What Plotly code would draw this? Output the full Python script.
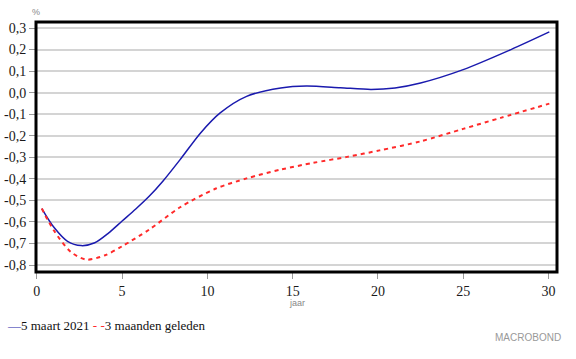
import plotly.graph_objects as go

# Data
maturity_blue = [0.29, 1.0, 1.8, 2.6, 3.4, 4.2, 5.0, 5.8, 6.6, 7.4, 8.4, 9.6, 10.75, 12.3, 14.3, 15.8, 17.8, 19.6, 21.0, 22.5, 25.0, 27.8, 30.05]
yield_blue = [-0.538, -0.625, -0.69, -0.71, -0.697, -0.652, -0.596, -0.54, -0.48, -0.41, -0.311, -0.187, -0.094, -0.017, 0.022, 0.031, 0.023, 0.015, 0.022, 0.045, 0.107, 0.2, 0.282]

maturity_red = [0.29, 1.0, 2.0, 2.9, 4.0, 5.0, 6.6, 8.4, 10.5, 12.3, 14.3, 16.2, 18.2, 20.1, 22.5, 25.0, 27.2, 30.05]
yield_red = [-0.538, -0.64, -0.74, -0.775, -0.755, -0.713, -0.635, -0.532, -0.445, -0.398, -0.357, -0.326, -0.298, -0.268, -0.226, -0.168, -0.117, -0.051]

series_names = ["5 maart 2021", "3 maanden geleden"]

y_tickvals = [0.3, 0.2, 0.1, 0.0, -0.1, -0.2, -0.3, -0.4, -0.5, -0.6, -0.7, -0.8]
y_ticktext = ["0,3", "0,2", "0,1", "0,0", "-0,1", "-0,2", "-0,3", "-0,4", "-0,5", "-0,6", "-0,7", "-0,8"]
x_tickvals = [0, 5, 10, 15, 20, 25, 30]
x_ticktext = ["0", "5", "10", "15", "20", "25", "30"]

BLUE = "#1a1aae"
RED = "#ff2a2a"
SERIF = "Liberation Serif, Times New Roman, serif"
SANS = "Liberation Sans, Arial, sans-serif"

fig = go.Figure()
fig.add_trace(go.Scatter(x=maturity_blue, y=yield_blue, mode="lines", name=series_names[0],
                         line=dict(color=BLUE, width=1.5, shape="spline", smoothing=0.8)))
fig.add_trace(go.Scatter(x=maturity_red, y=yield_red, mode="lines", name=series_names[1],
                         line=dict(color=RED, width=2, dash="4px,4px", shape="spline", smoothing=0.8)))

fig.update_layout(
    width=576, height=359,
    margin=dict(l=36, r=19, t=22, b=87, autoexpand=False),
    paper_bgcolor="white", plot_bgcolor="white",
    showlegend=False,
    font=dict(family=SERIF, size=14, color="#1a1a1a"),
    xaxis=dict(range=[-0.05, 30.5], tickvals=x_tickvals, ticktext=x_ticktext,
               showgrid=False, zeroline=False, showline=False, automargin=False,
               ticks="outside", ticklen=6, tickcolor="#999999", tickwidth=1,
               tickfont=dict(family=SERIF, size=14, color="#1a1a1a")),
    yaxis=dict(range=[-0.8325, 0.328], tickvals=y_tickvals, ticktext=y_ticktext,
               showgrid=True, gridcolor="#d4d4d4", gridwidth=1.5, zeroline=False, showline=False,
               automargin=False,
               ticks="outside", ticklen=6, tickcolor="#999999", tickwidth=1,
               tickfont=dict(family=SERIF, size=14, color="#1a1a1a")),
    shapes=[dict(type="rect", xref="paper", yref="paper", x0=0, y0=0, x1=1, y1=1,
                 line=dict(color="black", width=3), layer="above")],
    annotations=[
        dict(text="%", xref="paper", yref="paper", x=0.0, y=1.04, xanchor="center", yanchor="middle",
             showarrow=False, font=dict(family=SANS, size=9, color="#888888")),
        dict(text="jaar", xref="paper", yref="paper", x=0.5, y=-0.124, xanchor="center", yanchor="middle",
             showarrow=False, font=dict(family=SANS, size=9, color="#888888")),
        dict(text=("<span style='color:%s'>\u2014</span>%s "
                   "<span style='color:%s'>- -</span>%s") % (BLUE, series_names[0], RED, series_names[1]),
             xref="paper", yref="paper", x=-0.0595, y=-0.212, xanchor="left", yanchor="middle",
             showarrow=False, font=dict(family=SERIF, size=13, color="#111111")),
        dict(text="MACROBOND", xref="paper", yref="paper", x=1.0115, y=-0.26, xanchor="right", yanchor="middle",
             showarrow=False, font=dict(family=SANS, size=10, color="#999999")),
    ],
)

fig.write_html("out.html", config={"displayModeBar": False},
               post_script="document.body.style.margin='0';")
